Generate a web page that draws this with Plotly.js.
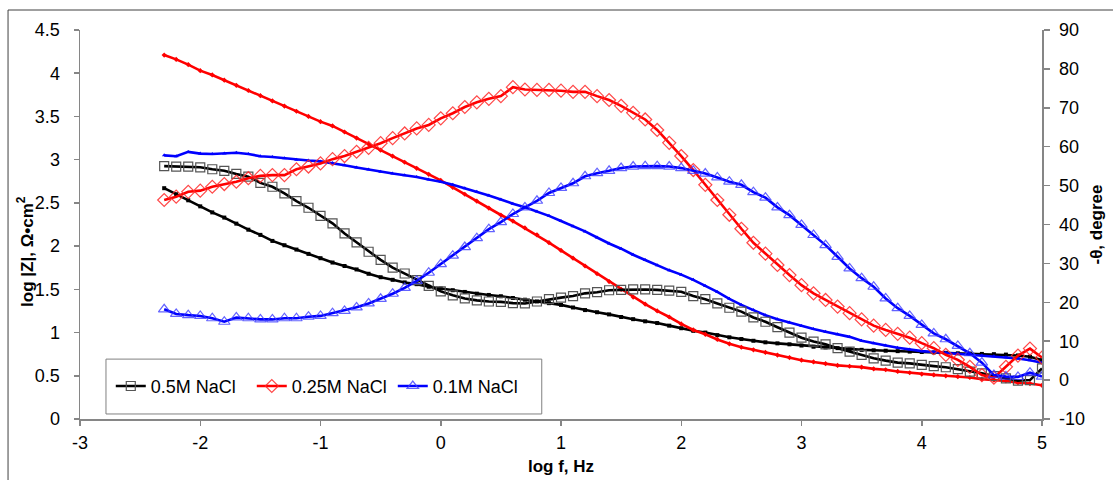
<!DOCTYPE html>
<html>
<head>
<meta charset="utf-8">
<script src="https://cdn.plot.ly/plotly-3.0.1.min.js"></script>
<style>html,body{margin:0;padding:0;background:#fff;}#chart{width:1113px;height:480px;}</style>
</head>
<body>
<div id="chart"></div>
<script>
// log f, Hz
const logF = [-2.3,-2.2,-2.1,-2.0,-1.9,-1.8,-1.7,-1.6,-1.5,-1.4,-1.3,-1.2,-1.1,-1.0,
  -0.9,-0.8,-0.7,-0.6,-0.5,-0.4,-0.3,-0.2,-0.1,0.0,
  0.1,0.2,0.3,0.4,0.5,0.6,0.7,0.8,0.9,1.0,
  1.1,1.2,1.3,1.4,1.5,1.6,1.7,1.8,1.9,2.0,
  2.1,2.2,2.3,2.4,2.5,2.6,2.7,2.8,2.9,3.0,
  3.1,3.2,3.3,3.4,3.5,3.6,3.7,3.8,3.9,4.0,
  4.1,4.2,4.3,4.4,4.5,4.6,4.7,4.8,4.9,5.0];

const seriesNames = ["0.5M NaCl", "0.25M NaCl", "0.1M NaCl"];

// tick labels (hyphen minus as in the original)
const xTickVals = [-3,-2,-1,0,1,2,3,4,5];
const xTickText = ["-3","-2","-1","0","1","2","3","4","5"];
const y2TickVals = [-10,0,10,20,30,40,50,60,70,80,90];
const y2TickText = ["-10","0","10","20","30","40","50","60","70","80","90"];

// log |Z|, Ohm cm2
const logZ_05 = [2.67,2.60,2.53,2.46,2.39,2.33,2.26,2.19,2.13,2.06,2.01,1.96,1.91,1.86,
  1.81,1.77,1.73,1.68,1.64,1.61,1.58,1.56,1.53,1.51,
  1.49,1.47,1.45,1.435,1.42,1.40,1.38,1.36,1.34,1.32,
  1.29,1.26,1.235,1.21,1.18,1.155,1.13,1.11,1.08,1.05,
  1.02,1.00,0.97,0.945,0.925,0.905,0.887,0.875,0.864,0.85,
  0.836,0.828,0.82,0.81,0.80,0.795,0.79,0.785,0.78,0.775,
  0.77,0.765,0.76,0.757,0.753,0.75,0.745,0.735,0.72,0.68];
const logZ_025 = [4.21,4.16,4.10,4.03,3.98,3.92,3.86,3.80,3.74,3.68,3.62,3.56,3.50,3.44,
  3.39,3.32,3.25,3.18,3.11,3.04,2.97,2.90,2.83,2.76,
  2.68,2.60,2.52,2.44,2.36,2.29,2.21,2.13,2.04,1.95,
  1.86,1.77,1.68,1.59,1.50,1.41,1.33,1.25,1.18,1.10,
  1.03,0.98,0.92,0.87,0.83,0.80,0.77,0.74,0.71,0.68,
  0.66,0.64,0.62,0.61,0.60,0.58,0.57,0.55,0.535,0.52,
  0.51,0.50,0.49,0.48,0.46,0.45,0.44,0.42,0.41,0.39];
const logZ_01 = [3.05,3.04,3.09,3.07,3.065,3.07,3.08,3.065,3.04,3.03,3.015,3.00,2.99,2.98,
  2.96,2.935,2.91,2.885,2.86,2.84,2.82,2.80,2.77,2.745,
  2.71,2.67,2.63,2.585,2.54,2.49,2.45,2.40,2.35,2.29,
  2.23,2.17,2.10,2.03,1.97,1.90,1.84,1.78,1.72,1.67,
  1.61,1.54,1.47,1.39,1.32,1.26,1.20,1.155,1.115,1.075,
  1.04,1.01,0.98,0.95,0.905,0.875,0.85,0.825,0.805,0.785,
  0.775,0.765,0.755,0.745,0.735,0.725,0.715,0.70,0.68,0.65];

// -theta, degree
const phase_05 = [55.0,54.9,54.9,54.7,54.2,53.8,53.0,52.3,50.7,49.7,48.0,46.0,44.3,42.2,
  40.3,37.7,35.4,33.0,30.9,28.9,27.4,25.7,24.2,22.8,
  21.8,21.0,20.5,20.2,20.1,19.8,19.7,20.2,20.8,21.2,
  21.6,22.3,22.6,23.1,23.2,23.3,23.3,23.2,23.0,22.7,
  21.6,20.8,19.7,18.6,17.6,16.1,15.0,13.6,12.2,10.9,
  9.9,9.2,8.2,7.3,6.5,5.6,5.0,4.5,4.3,3.9,
  3.6,3.3,2.8,2.2,1.75,1.05,0.45,-0.15,0.0,3.0];
const phase_025 = [46.3,47.15,48.4,48.7,49.7,50.4,51.0,51.9,52.5,52.7,52.7,54.2,54.9,55.7,
  56.8,57.6,58.7,59.7,60.9,62.2,63.4,64.7,65.6,67.3,
  68.6,70.2,71.4,72.3,73.0,75.3,74.7,74.6,74.6,74.4,
  74.1,74.1,73.0,72.0,70.5,68.7,67.0,64.3,61.0,57.6,
  54.0,50.2,46.3,42.5,38.9,35.3,32.5,29.6,27.0,24.4,
  22.3,20.6,18.9,17.2,15.6,14.0,12.9,11.9,10.9,9.5,
  8.2,6.5,5.2,3.4,1.3,0.6,3.4,6.3,8.1,5.8];
const phase_01 = [18.2,17.0,16.7,16.5,15.9,15.0,16.1,15.9,15.6,15.6,15.9,15.9,16.3,16.5,
  17.2,17.8,18.7,19.7,20.9,22.2,23.7,25.5,27.6,29.8,
  32.0,34.2,36.5,38.8,40.6,42.7,44.4,46.1,48.1,49.4,
  50.6,52.4,53.2,53.8,54.5,54.9,55.0,55.0,54.9,54.5,
  53.8,53.1,52.1,51.0,50.2,48.3,46.9,44.4,42.4,39.9,
  37.3,34.7,31.7,28.7,26.2,24.0,21.0,18.5,16.5,14.2,
  12.0,10.5,8.8,6.9,4.5,1.3,0.9,0.8,1.9,0.9];

const FONT = "Liberation Sans, Arial, sans-serif";
const AX = "#868686";

const traces = [
  {x: logF, y: logZ_05, mode: "lines+markers", name: seriesNames[0], showlegend: false,
   line: {color: "#000000", width: 2.6}, marker: {symbol: "square", size: 4, color: "#000000"}},
  {x: logF, y: logZ_025, mode: "lines+markers", name: seriesNames[1], showlegend: false,
   line: {color: "#FF0000", width: 2.6}, marker: {symbol: "diamond", size: 4, color: "#FF0000"}},
  {x: logF, y: logZ_01, mode: "lines+markers", name: seriesNames[2], showlegend: false,
   line: {color: "#0000FF", width: 2.6}, marker: {symbol: "triangle-up", size: 4, color: "#0000FF"}},
  {x: logF, y: phase_05, yaxis: "y2", mode: "lines+markers", name: seriesNames[0],
   line: {color: "#000000", width: 2.6},
   marker: {symbol: "square-open", size: 9, color: "#555555", line: {width: 1.2}}},
  {x: logF, y: phase_025, yaxis: "y2", mode: "lines+markers", name: seriesNames[1],
   line: {color: "#FF0000", width: 2.6},
   marker: {symbol: "diamond-open", size: 10, color: "rgba(255,40,40,0.85)", line: {width: 1.2}}},
  {x: logF, y: phase_01, yaxis: "y2", mode: "lines+markers", name: seriesNames[2],
   line: {color: "#0000FF", width: 2.6},
   marker: {symbol: "triangle-up-open", size: 10, color: "rgba(60,60,255,0.8)", line: {width: 1.2}}}
];

const layout = {
  width: 1113, height: 480,
  margin: {l: 80, r: 71, t: 30, b: 61},
  paper_bgcolor: "#ffffff", plot_bgcolor: "#ffffff",
  font: {family: FONT, color: "#000000", size: 18},
  showlegend: true,
  legend: {orientation: "h", x: 0.032, xanchor: "left", y: 0.084, yanchor: "middle",
           bgcolor: "rgba(0,0,0,0)", borderwidth: 0, font: {family: FONT, size: 18},
           itemwidth: 30, entrywidth: 96, entrywidthmode: "pixels"},
  xaxis: {range: [-3, 5], tickmode: "array", tickvals: xTickVals, ticktext: xTickText,
          showgrid: false, zeroline: false,
          showline: true, linecolor: AX, linewidth: 1.5, ticks: "outside", ticklen: 5,
          tickcolor: AX, tickwidth: 1.5, tickfont: {size: 18}, ticklabelstandoff: 2,
          title: {text: "<b>log f, Hz</b>", font: {size: 17}, standoff: 8}},
  xaxis2: {range: [-3, 5], tickmode: "array", tickvals: xTickVals, overlaying: "x", anchor: "y", side: "bottom",
           showgrid: false, zeroline: false, showline: false, ticks: "inside", ticklen: 5,
           tickcolor: AX, tickwidth: 1.5, showticklabels: false},
  yaxis: {range: [0, 4.5], dtick: 0.5, tick0: 0, showgrid: false, zeroline: false,
          showline: true, linecolor: AX, linewidth: 1.5, ticks: "outside", ticklen: 5,
          tickcolor: AX, tickwidth: 1.5, tickfont: {size: 18}, ticklabelstandoff: 10},
  yaxis2: {range: [-10, 90], tickmode: "array", tickvals: y2TickVals, ticktext: y2TickText,
           overlaying: "y", side: "right",
           showgrid: false, zeroline: false, showline: true, linecolor: AX, linewidth: 1.5,
           ticks: "outside", ticklen: 6, tickcolor: AX, tickwidth: 1.5, tickfont: {size: 18},
           ticklabelstandoff: 6,
           title: {text: "<b>-θ, degree</b>", font: {size: 17}, standoff: 6}},
  yaxis3: {range: [-10, 90], tickmode: "array", tickvals: y2TickVals, overlaying: "y", side: "right", anchor: "x",
           showgrid: false, zeroline: false, showline: false, ticks: "inside", ticklen: 6,
           tickcolor: AX, tickwidth: 1.5, showticklabels: false},
  annotations: [
    {text: "<b>log |Z|, Ω•cm<sup>2</sup></b>", xref: "paper", yref: "paper",
     x: -0.057, y: 0.43, xanchor: "center", yanchor: "middle", textangle: -90,
     showarrow: false, font: {family: FONT, size: 17, color: "#000000"}}
  ],
  shapes: [
    {type: "rect", xref: "paper", yref: "paper", x0: -0.0748, x1: 1.09, y0: -0.19, y1: 1.0514,
     line: {color: "#404040", width: 1}, fillcolor: "rgba(0,0,0,0)", layer: "below"},
    {type: "rect", xref: "paper", yref: "paper", x0: 0.027, x1: 0.480, y0: 0.0129, y1: 0.154,
     line: {color: "#808080", width: 1}, fillcolor: "#ffffff", layer: "above"}
  ]
};

Plotly.newPlot("chart", traces, layout, {displayModeBar: false, staticPlot: true});
</script>
</body>
</html>
